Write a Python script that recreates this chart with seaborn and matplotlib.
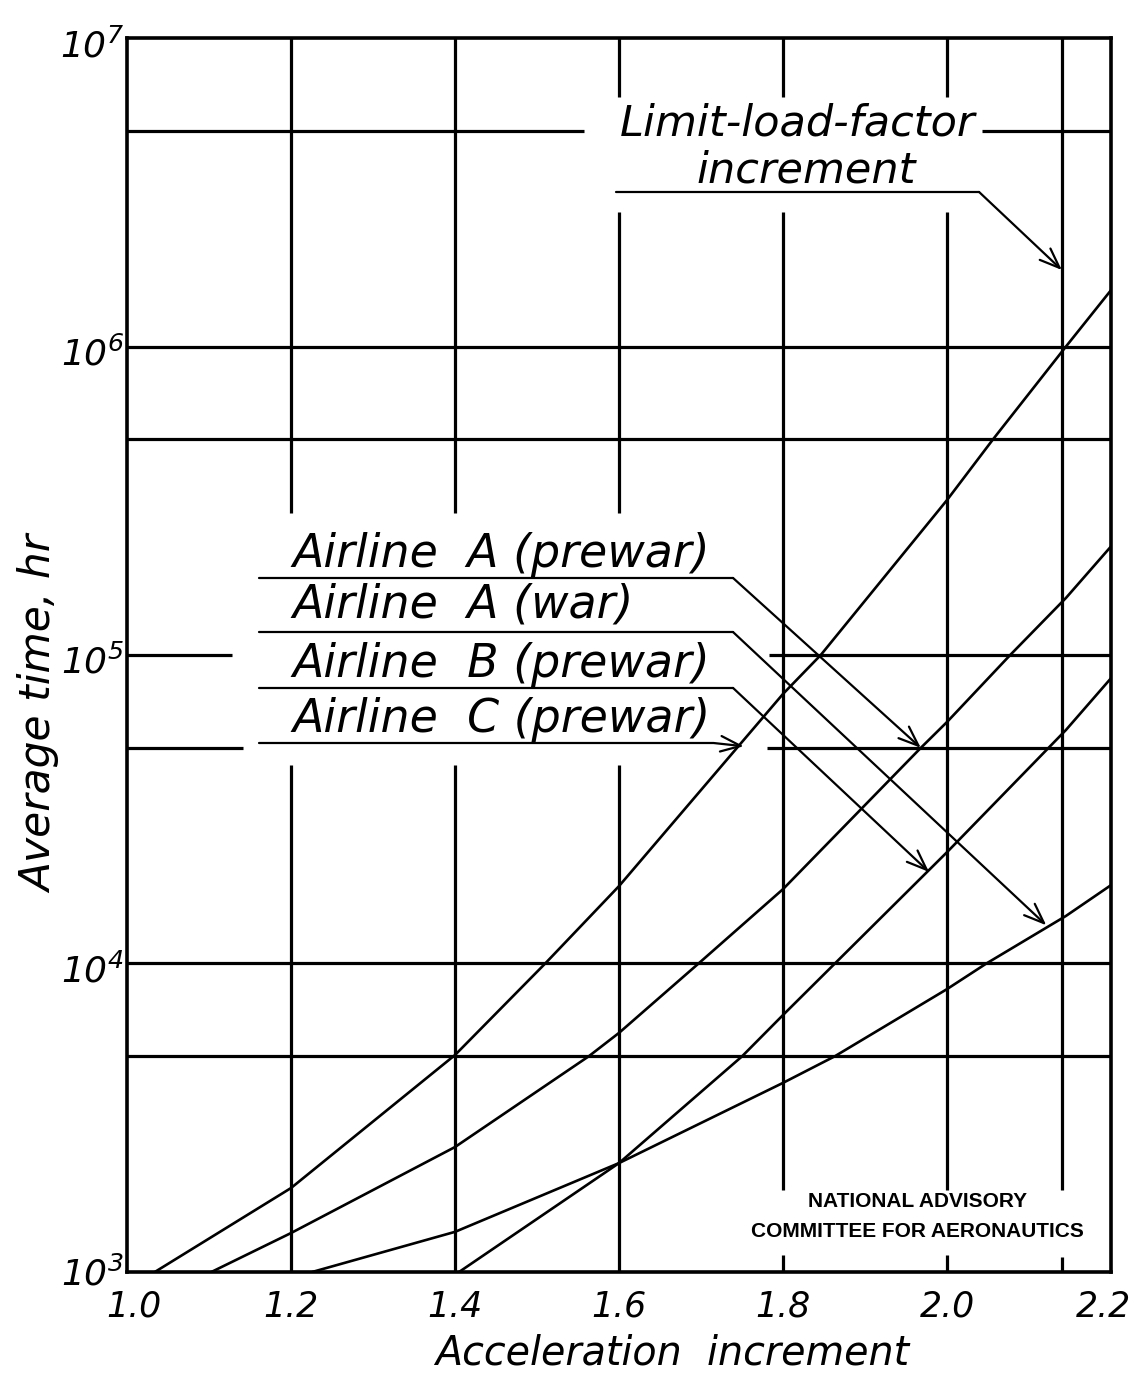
import numpy as np
import pandas as pd
import matplotlib
matplotlib.use("Agg")
import matplotlib.pyplot as plt
from matplotlib.ticker import NullLocator
from matplotlib.transforms import offset_copy
import seaborn as sns

# ---- data: acceleration increment vs. average time (hr) between exceedances ----
c_prewar_x = [1.034, 1.2, 1.4, 1.51, 1.6, 1.8, 1.846, 2.0, 2.056, 2.145, 2.2]
c_prewar_y = [1000, 1871, 5050, 10000, 17820, 74800, 100000, 318000, 500000, 1000000, 1524000]

a_prewar_x = [1.103, 1.2, 1.4, 1.563, 1.6, 1.697, 1.8, 1.968, 2.0, 2.077, 2.145, 2.2]
a_prewar_y = [1000, 1337, 2541, 5000, 5957, 10000, 17420, 50000, 60670, 100000, 153100, 225000]

b_prewar_x = [1.405, 1.6, 1.75, 1.8, 2.0, 2.145, 2.2]
b_prewar_y = [1000, 2254, 5000, 6808, 22960, 57150, 84140]

a_war_x = [1.226, 1.4, 1.6, 1.8, 1.863, 2.0, 2.048, 2.145, 2.2]
a_war_y = [1000, 1349, 2254, 4102, 5000, 8260, 10000, 14260, 17950]

limit_increment = 2.14

x_ticks = [1.0, 1.2, 1.4, 1.6, 1.8, 2.0, 2.2]
x_tick_labels = ["1.0", "1.2", "1.4", "1.6", "1.8", "2.0", "2.2"]
y_ticks = [1e3, 1e4, 1e5, 1e6, 1e7]
y_tick_labels = [r"$\mathregular{10^{3}}$", r"$\mathregular{10^{4}}$", r"$\mathregular{10^{5}}$",
                 r"$\mathregular{10^{6}}$", r"$\mathregular{10^{7}}$"]

series_names = ["Airline  A (prewar)", "Airline  A (war)", "Airline  B (prewar)", "Airline  C (prewar)"]
series_x = [a_prewar_x, a_war_x, b_prewar_x, c_prewar_x]
series_y = [a_prewar_y, a_war_y, b_prewar_y, c_prewar_y]

df = pd.concat(
    [pd.DataFrame({"series": n, "accel": x, "hours": y})
     for n, x, y in zip(series_names, series_x, series_y)],
    ignore_index=True,
)

# ---- style ----
sns.set_theme(style="white")
plt.rcParams["font.family"] = ["DejaVu Sans"]
plt.rcParams["text.color"] = "black"
plt.rcParams["axes.labelcolor"] = "black"
HAND = dict(family="DejaVu Sans", style="italic", weight="normal", color="black")

fig = plt.figure(figsize=(11.37, 13.73), dpi=100)
ax = fig.add_axes([0.1117, 0.0736, 0.8655, 0.8987])

ax.set_yscale("log")
ax.set_xlim(1.0, 2.2)
ax.set_ylim(1e3, 1e7)

GRID_LW = 2.3
# grid lines, broken where the lettering sits
v_grid = [
    (1.2, [(2.88e5, 1e7), (1e3, 4.4e4)]),
    (1.4, [(2.88e5, 1e7), (1e3, 4.4e4)]),
    (1.6, [(6.44e6, 1e7), (2.88e5, 2.73e6), (1e3, 4.4e4)]),
    (1.8, [(6.44e6, 1e7), (1845, 2.73e6), (1e3, 1135)]),
    (2.0, [(6.44e6, 1e7), (1845, 2.73e6), (1e3, 1135)]),
    (limit_increment, [(1845, 1e7), (1e3, 1120)]),
]
for xv, segs in v_grid:
    for lo, hi in segs:
        ax.vlines(xv, lo, hi, color="black", lw=GRID_LW, zorder=2)

h_grid = [
    (5e6, [(1.0, 1.557), (2.042, 2.2)]),
    (1e6, [(1.0, 2.2)]),
    (5e5, [(1.0, 2.2)]),
    (1e5, [(1.0, 1.128), (1.783, 2.2)]),
    (5e4, [(1.0, 1.141), (1.780, 2.2)]),
    (1e4, [(1.0, 2.2)]),
    (5e3, [(1.0, 2.2)]),
]
for yv, segs in h_grid:
    for lo, hi in segs:
        ax.hlines(yv, lo, hi, color="black", lw=GRID_LW, zorder=2)

# ---- curves ----
sns.lineplot(data=df, x="accel", y="hours", units="series", estimator=None,
             sort=False, color="black", lw=1.9, ax=ax, zorder=3)

# ---- frame & tick labels ----
for s in ax.spines.values():
    s.set_color("black")
    s.set_linewidth(2.6)
ax.set_xticks(x_ticks)
ax.set_yticks(y_ticks)
ax.yaxis.set_minor_locator(NullLocator())
ax.tick_params(axis="both", length=0, labelbottom=False, labelleft=False)

x_shift = {"1.0": 7, "2.2": -8}
for v, s in zip(x_ticks, x_tick_labels):
    tr = offset_copy(ax.get_xaxis_transform(), fig=fig, x=x_shift.get(s, 0), y=-45, units="dots")
    ax.text(v, 0, s, transform=tr, ha="center", va="baseline", fontsize=25, clip_on=False, **HAND)

for v, s in zip(y_ticks, y_tick_labels):
    dy = -14 if v == 1e3 else -19
    tr = offset_copy(ax.get_yaxis_transform(), fig=fig, x=-3, y=dy, units="dots")
    ax.text(0, v, s, transform=tr, ha="right", va="baseline", fontsize=26, clip_on=False, **HAND)

ax.set_xlabel("")
ax.set_ylabel("")
ax.text(0.554, -0.0754, "Acceleration  increment", transform=ax.transAxes, ha="center",
        va="baseline", fontsize=28.5, **HAND)
ax.text(-0.088, 0.452, "Average time, hr", transform=ax.transAxes, ha="center",
        va="center", rotation=90, fontsize=30.5, **HAND)

# ---- annotations ----
LEAD_LW = 1.6
ARROW = dict(arrowstyle="->,head_length=0.9,head_width=0.35", color="black",
             lw=LEAD_LW, shrinkA=0, shrinkB=0, mutation_scale=16)

ax.text(0.681, 0.9214, "Limit-load-factor", transform=ax.transAxes, ha="center",
        va="baseline", fontsize=31, **HAND)
ax.text(0.690, 0.8833, "increment", transform=ax.transAxes, ha="center",
        va="baseline", fontsize=31, **HAND)
ax.plot([1.596, 2.039], [3.17e6, 3.17e6], color="black", lw=LEAD_LW, zorder=3)
ax.annotate("", xy=(limit_increment, 1.77e6), xytext=(2.039, 3.17e6), arrowprops=ARROW)

label_baselines = [0.5713, 0.530, 0.4822, 0.4376]
leader_y = [177700, 118700, 78200, 51850]
leader_break = [1.739, 1.739, 1.739, 1.715]
arrow_tips = [(1.968, 50000), (2.121, 13300), (1.978, 19800), (1.752, 50600)]
for name, base, ly, bx, tip in zip(series_names, label_baselines, leader_y, leader_break, arrow_tips):
    ax.text(0.1677, base, name, transform=ax.transAxes, ha="left", va="baseline",
            fontsize=33, **HAND)
    ax.plot([1.161, bx], [ly, ly], color="black", lw=LEAD_LW, zorder=3)
    ax.annotate("", xy=tip, xytext=(bx, ly), arrowprops=ARROW)

NACA = dict(ha="center", va="center", fontsize=15, fontweight="bold", color="black",
            family=["Liberation Sans", "DejaVu Sans"], transform=ax.transAxes)
ax.text(0.803, 0.0567, "NATIONAL ADVISORY", **NACA)
ax.text(0.803, 0.0324, "COMMITTEE FOR AERONAUTICS", **NACA)

fig.savefig("out.png", dpi=100, facecolor="white")
